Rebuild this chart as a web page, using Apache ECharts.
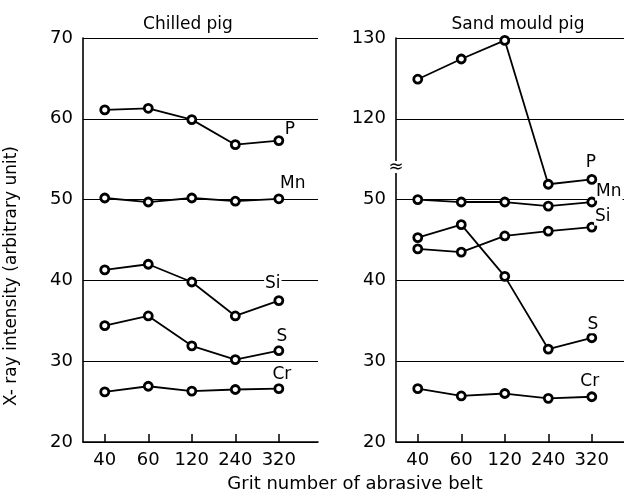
<!DOCTYPE html>
<html>
<head>
<meta charset="utf-8">
<title>X-ray intensity vs grit number</title>
<script src="https://cdn.jsdelivr.net/npm/echarts@6/dist/echarts.min.js"></script>
<style>
html,body{margin:0;padding:0;background:#fff;}
#main{width:624px;height:502px;}
</style>
</head>
<body>
<div id="main"></div>
<script>
// grit number of the abrasive belt
var grits = ['40', '60', '120', '240', '320'];
var elements = ['P', 'Mn', 'Si', 'S', 'Cr'];

// chilled pig
var chilledP  = [61.1, 61.3, 59.9, 56.8, 57.3];
var chilledMn = [50.2, 49.7, 50.2, 49.8, 50.1];
var chilledSi = [41.3, 42.0, 39.8, 35.6, 37.5];
var chilledS  = [34.4, 35.6, 31.9, 30.2, 31.3];
var chilledCr = [26.2, 26.9, 26.3, 26.5, 26.6];

// sand mould pig (axis is broken between 50 and 120)
var sandP  = [124.9, 127.4, 129.7, 51.9, 52.5];
var sandMn = [50.0, 49.7, 49.7, 49.2, 49.7];
var sandSi = [43.9, 43.5, 45.5, 46.1, 46.6];
var sandS  = [45.3, 46.9, 40.5, 31.5, 32.9];
var sandCr = [26.6, 25.7, 26.0, 25.4, 25.6];

// y tick labels
var chilledTicks = [20, 30, 40, 50, 60, 70];
var sandTicks    = [20, 30, 40, 50, 120, 130];

var breakShift = 60; // 120..130 drawn where 60..70 would be

var chilled = [chilledP, chilledMn, chilledSi, chilledS, chilledCr];
var sand = [sandP, sandMn, sandSi, sandS, sandCr];

// where the element name sits relative to the last point
var labelOffsets = {
    chilled: {P: [11, -11], Mn: [14, -15], Si: [-6, -17], S: [3, -14], Cr: [3, -14]},
    sand:    {P: [-1, -17], Mn: [17, -10], Si: [11, -10], S: [1, -13], Cr: [-2, -15]}
};

var font = 'DejaVu Sans';

function makeSeries(name, vals, idx, offsets) {
    var data = vals.map(function (v, i) {
        var y = v > 100 ? v - breakShift : v;
        var item = {value: [i, y]};
        if (i == vals.length - 1) {
            item.label = {
                show: true,
                position: 'inside',
                offset: offsets[name],
                formatter: name,
                color: '#000',
                fontFamily: font,
                fontSize: 17,
                backgroundColor: '#fff',
                padding: [0, 1]
            };
        }
        return item;
    });
    return {
        name: name,
        type: 'line',
        xAxisIndex: idx,
        yAxisIndex: idx,
        data: data,
        symbol: 'circle',
        symbolSize: 8,
        lineStyle: {color: '#000', width: 1.8},
        itemStyle: {color: '#fff', borderColor: '#000', borderWidth: 2.8},
        label: {show: false},
        emphasis: {disabled: true},
        z: 3
    };
}

function xAxisOf(idx, max) {
    return {
        gridIndex: idx,
        type: 'value',
        min: -0.5,
        max: max,
        axisLine: {lineStyle: {color: '#000', width: 1.6}},
        axisTick: {customValues: [0, 1, 2, 3, 4], inside: true, length: 8, lineStyle: {color: '#000', width: 1.5}},
        axisLabel: {
            customValues: [0, 1, 2, 3, 4],
            formatter: function (v) { return grits[v]; },
            color: '#000', fontFamily: font, fontSize: 18, margin: 9
        },
        splitLine: {show: false}
    };
}

function yAxisOf(idx, ticks) {
    return {
        gridIndex: idx,
        type: 'value',
        min: 20,
        max: 70,
        interval: 10,
        axisLine: {show: true, onZero: false, lineStyle: {color: '#000', width: 1.6}},
        axisTick: {show: false},
        axisLabel: {
            formatter: function (v) { return ticks[(v - 20) / 10]; },
            color: '#000', fontFamily: font, fontSize: 18, margin: 10
        },
        splitLine: {lineStyle: {color: '#000', width: 1.2}}
    };
}

var series = [];
for (var i = 0; i < elements.length; i++) {
    series.push(makeSeries(elements[i], chilled[i], 0, labelOffsets.chilled));
    series.push(makeSeries(elements[i], sand[i], 1, labelOffsets.sand));
}

var leftY = yAxisOf(0, chilledTicks);
leftY.name = 'X- ray intensity (arbitrary unit)';
leftY.nameLocation = 'middle';
leftY.nameGap = 63;
leftY.nameTextStyle = {color: '#000', fontFamily: font, fontSize: 17, padding: [0, 72, 0, 0]};

var myChart = echarts.init(document.getElementById('main'));
var option = {
    animation: false,
    backgroundColor: '#fff',
    title: [
        {text: 'Chilled pig', left: 183, top: 11, textAlign: 'center',
         textStyle: {color: '#000', fontFamily: font, fontSize: 17, fontWeight: 'normal'}},
        {text: 'Sand mould pig', left: 513, top: 11, textAlign: 'center',
         textStyle: {color: '#000', fontFamily: font, fontSize: 17, fontWeight: 'normal'}},
        {text: 'Grit number of abrasive belt', left: 350, top: 470, textAlign: 'center',
         textStyle: {color: '#000', fontFamily: font, fontSize: 18, fontWeight: 'normal'}}
    ],
    grid: [
        {left: 83, right: 306, top: 38, bottom: 60},
        {left: 396, right: 0, top: 38, bottom: 60}
    ],
    xAxis: [xAxisOf(0, 4.9), xAxisOf(1, 4.74)],
    yAxis: [leftY, yAxisOf(1, sandTicks)],
    series: series,
    graphic: [
        {type: 'rect', x: 392, y: 161, shape: {width: 8, height: 12}, style: {fill: '#fff'}, z: 10},
        {type: 'text', x: 396, y: 167, z: 11,
         style: {text: '≈', fontSize: 18, fontFamily: font, fill: '#000', textAlign: 'center', textVerticalAlign: 'middle'}}
    ]
};
myChart.setOption(option);
</script>
</body>
</html>
